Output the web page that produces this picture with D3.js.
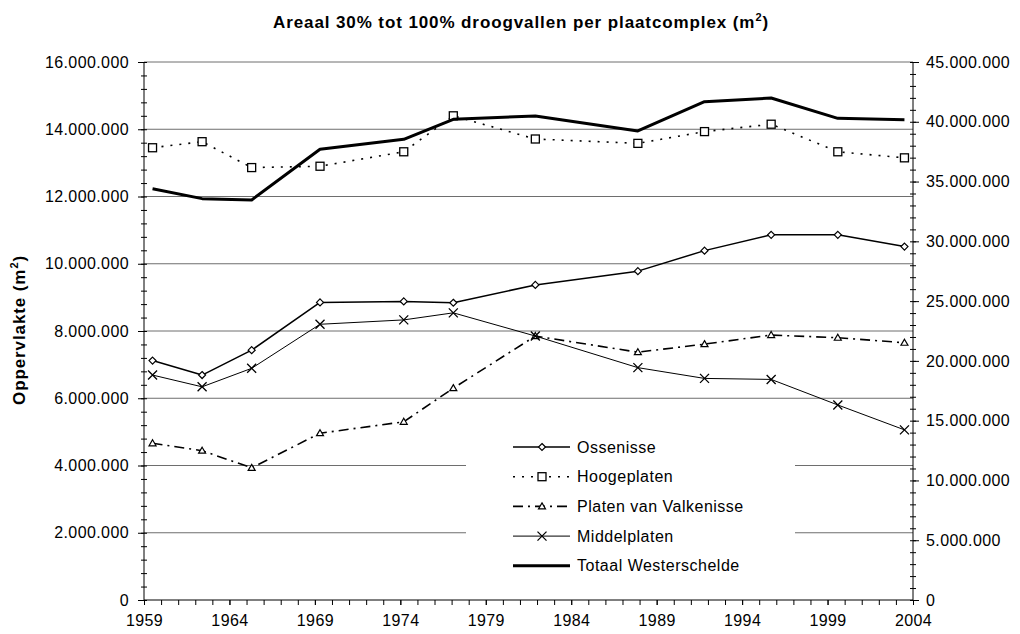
<!DOCTYPE html>
<html>
<head>
<meta charset="utf-8">
<script src="https://cdn.jsdelivr.net/npm/d3@7"></script>
<style>
  body { margin: 0; background: #fff; }
  text { font-family: "Liberation Sans", Arial, sans-serif; }
</style>
</head>
<body>
<svg id="chart" width="1020" height="634"></svg>
<script>
// survey dates (decimal years) and areas in m2
const years = [1959.5, 1962.4, 1965.3, 1969.3, 1974.2, 1977.1, 1981.9, 1987.9, 1991.8, 1995.7, 1999.6, 2003.5];
const ossenisse = [7120000, 6690000, 7430000, 8850000, 8880000, 8840000, 9370000, 9780000, 10390000, 10860000, 10860000, 10510000];
const hoogeplaten = [13450000, 13630000, 12860000, 12900000, 13330000, 14400000, 13710000, 13580000, 13930000, 14150000, 13330000, 13150000];
const valkenisse = [4660000, 4440000, 3930000, 4960000, 5300000, 6300000, 7850000, 7370000, 7610000, 7880000, 7800000, 7650000];
const middelplaten = [6690000, 6340000, 6890000, 8200000, 8330000, 8540000, 7850000, 6910000, 6590000, 6560000, 5800000, 5060000];
const totaal = [34400000, 33570000, 33460000, 37700000, 38530000, 40210000, 40480000, 39230000, 41680000, 41990000, 40290000, 40180000];

const leftTicks = [0, 2e6, 4e6, 6e6, 8e6, 10e6, 12e6, 14e6, 16e6];
const rightTicks = [0, 5e6, 10e6, 15e6, 20e6, 25e6, 30e6, 35e6, 40e6, 45e6];
const xTicks = [1959, 1964, 1969, 1974, 1979, 1984, 1989, 1994, 1999, 2004];

const svg = d3.select("#chart");
const pLeft = 144, pRight = 913, pTop = 62, pBottom = 600;

const x = d3.scaleLinear().domain([1959, 2004]).range([pLeft, pRight]);
const yL = d3.scaleLinear().domain([0, 16e6]).range([pBottom, pTop]);
const yR = d3.scaleLinear().domain([0, 45e6]).range([pBottom, pTop]);

const nl = d3.formatLocale({ decimal: ",", thousands: ".", grouping: [3], currency: ["€", ""] });
const fmt = nl.format(",d");

// gridlines
svg.append("g").selectAll("line")
  .data(leftTicks.slice(1))
  .enter().append("line")
  .attr("x1", pLeft).attr("x2", pRight)
  .attr("y1", d => yL(d)).attr("y2", d => yL(d))
  .attr("stroke", "#6e6e6e").attr("stroke-width", 1);

// left axis
const gl = svg.append("g").attr("transform", `translate(${pLeft},0)`);
gl.call(d3.axisLeft(yL).tickValues(d3.range(0, 16e6 + 1, 4e5)).tickSize(3).tickFormat(""))
  .call(g => g.selectAll(".tick line").attr("x2", -3).attr("x1", 3));
gl.append("g").call(d3.axisLeft(yL).tickValues(leftTicks).tickSize(6).tickPadding(9).tickFormat(fmt));
gl.selectAll(".domain").remove();
gl.append("line").attr("y1", pTop).attr("y2", pBottom).attr("stroke", "#000");

// right axis
const gr = svg.append("g").attr("transform", `translate(${pRight},0)`);
gr.call(d3.axisRight(yR).tickValues(d3.range(0, 45e6 + 1, 1e6)).tickSize(3).tickFormat(""))
  .call(g => g.selectAll(".tick line").attr("x1", -3).attr("x2", 3));
gr.append("g").call(d3.axisRight(yR).tickValues(rightTicks).tickSize(6).tickPadding(7).tickFormat(fmt));
gr.selectAll(".domain").remove();
gr.append("line").attr("y1", pTop).attr("y2", pBottom).attr("stroke", "#000");

// x axis
const gx = svg.append("g").attr("transform", `translate(0,${pBottom})`);
gx.call(d3.axisBottom(x).tickValues(d3.range(1959, 2005, 1)).tickSize(5).tickFormat(""));
gx.append("g").call(d3.axisBottom(x).tickValues(xTicks).tickSize(5).tickPadding(10).tickFormat(d3.format("d")));
gx.selectAll(".domain").remove();
gx.append("line").attr("x1", pLeft).attr("x2", pRight).attr("stroke", "#000");

svg.selectAll(".tick text")
  .attr("fill", "#000")
  .style("font-size", "16px")
  .style("letter-spacing", "0.4px");
svg.selectAll(".tick line").attr("stroke", "#000");

// series
const series = [
  { name: "Ossenisse", values: ossenisse, axis: yL, width: 1.5, dash: null, marker: "diamond" },
  { name: "Hoogeplaten", values: hoogeplaten, axis: yL, width: 1.6, dash: "2,7", marker: "square" },
  { name: "Platen van Valkenisse", values: valkenisse, axis: yL, width: 1.6, dash: "10,5,2,5", marker: "triangle" },
  { name: "Middelplaten", values: middelplaten, axis: yL, width: 1, dash: null, marker: "cross" },
  { name: "Totaal Westerschelde", values: totaal, axis: yR, width: 3, dash: null, marker: null }
];

function drawMarker(g, type, cx, cy) {
  if (type === "diamond") {
    g.append("path").attr("d", `M${cx},${cy - 3.5}L${cx + 3.5},${cy}L${cx},${cy + 3.5}L${cx - 3.5},${cy}Z`)
      .attr("fill", "#fff").attr("stroke", "#000").attr("stroke-width", 1.2);
  } else if (type === "square") {
    g.append("rect").attr("x", cx - 4).attr("y", cy - 4).attr("width", 8).attr("height", 8)
      .attr("fill", "#fff").attr("stroke", "#000").attr("stroke-width", 1.3);
  } else if (type === "triangle") {
    g.append("path").attr("d", `M${cx},${cy - 3.5}L${cx + 3.5},${cy + 2.5}L${cx - 3.5},${cy + 2.5}Z`)
      .attr("fill", "#fff").attr("stroke", "#000").attr("stroke-width", 1.2);
  } else if (type === "cross") {
    g.append("path").attr("d", `M${cx - 4.5},${cy - 4.5}L${cx + 4.5},${cy + 4.5}M${cx - 4.5},${cy + 4.5}L${cx + 4.5},${cy - 4.5}`)
      .attr("fill", "none").attr("stroke", "#000").attr("stroke-width", 1.3);
  }
}

series.forEach(s => {
  const line = d3.line().x((d, i) => x(years[i])).y(d => s.axis(d));
  svg.append("path")
    .datum(s.values)
    .attr("d", line)
    .attr("fill", "none")
    .attr("stroke", "#000")
    .attr("stroke-width", s.width)
    .attr("stroke-dasharray", s.dash)
    .attr("stroke-linejoin", "round");
  if (s.marker) {
    const mg = svg.append("g");
    s.values.forEach((v, i) => drawMarker(mg, s.marker, x(years[i]), s.axis(v)));
  }
});

// legend
const lg = svg.append("g");
lg.append("rect").attr("x", 466).attr("y", 426).attr("width", 329).attr("height", 160).attr("fill", "#fff");
series.forEach((s, i) => {
  const ly = 447 + i * 29.7;
  lg.append("line").attr("x1", 513).attr("x2", 570).attr("y1", ly).attr("y2", ly)
    .attr("stroke", "#000").attr("stroke-width", s.width).attr("stroke-dasharray", s.dash);
  if (s.marker) drawMarker(lg, s.marker, 542, ly);
  lg.append("text").attr("x", 577).attr("y", ly + 5.5)
    .style("font-size", "16px").style("letter-spacing", "0.5px")
    .text(s.name);
});

// titles
const title = svg.append("text").attr("x", 521).attr("y", 28).attr("text-anchor", "middle")
  .style("font-size", "17px").style("font-weight", "bold").style("letter-spacing", "0.9px");
title.append("tspan").text("Areaal 30% tot 100% droogvallen per plaatcomplex (m");
title.append("tspan").attr("dy", -7).style("font-size", "11px").text("2");
title.append("tspan").attr("dy", 7).text(")");

const yt = svg.append("text").attr("transform", "translate(25,330) rotate(-90)").attr("text-anchor", "middle")
  .style("font-size", "17px").style("font-weight", "bold").style("letter-spacing", "0.9px");
yt.append("tspan").text("Oppervlakte (m");
yt.append("tspan").attr("dy", -7).style("font-size", "11px").text("2");
yt.append("tspan").attr("dy", 7).text(")");
</script>
</body>
</html>
